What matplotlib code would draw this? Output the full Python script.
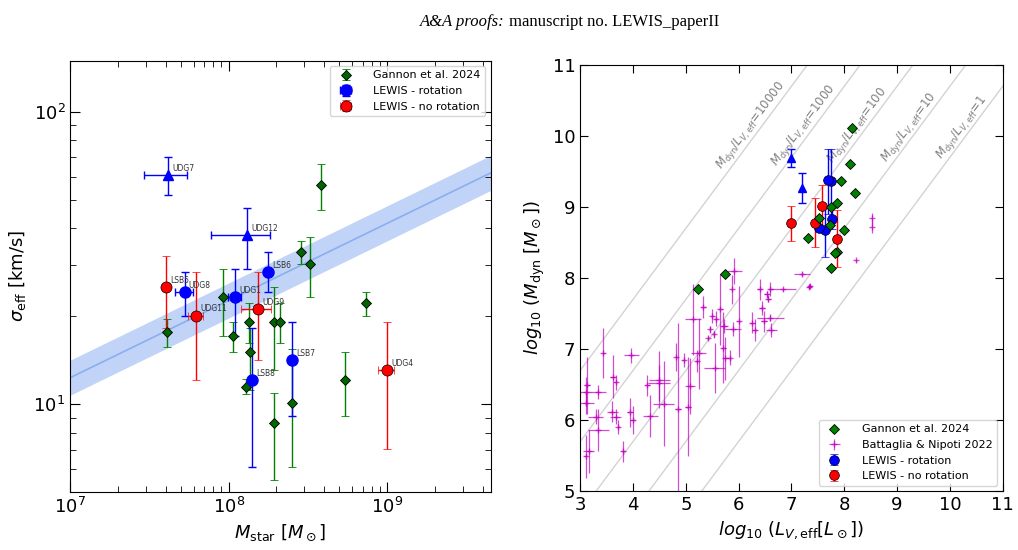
import numpy as np
import matplotlib
matplotlib.use("Agg")
import matplotlib.pyplot as plt

# ---------------- Left panel data ----------------
# Gannon et al. 2024
g_mstar = [4.09e7, 9.2e7, 1.07e8, 1.35e8, 1.36e8, 1.28e8, 1.93e8, 2.12e8, 1.93e8, 2.5e8, 2.86e8, 3.24e8, 3.8e8, 5.45e8, 7.36e8]
g_sig = [17.7, 23.2, 17.1, 19.1, 15.1, 11.5, 19.1, 19.1, 8.6, 10.1, 33.2, 30.1, 56.1, 12.1, 22.2]
g_sig_hi = [19.6, 29.0, 19.1, 22.2, 18.2, 12.2, 25.2, 22.2, 10.9, 15.4, 36.2, 37.2, 66.2, 15.1, 24.2]
g_sig_lo = [15.7, 17.1, 15.1, 16.2, 11.2, 10.8, 13.1, 16.2, 5.5, 6.1, 30.1, 23.2, 46.3, 9.1, 20.1]

# LEWIS rotation (circles)
rot_names = ["UDG8", "UDG1", "LSB6", "LSB7", "LSB8"]
rot_mstar = [10**7.722, 10**8.040, 10**8.251, 10**8.397, 10**8.146]
rot_mlo = [10**7.662, 10**7.996, 10**8.251, 10**8.397, 10**8.146]
rot_mhi = [10**7.772, 10**8.080, 10**8.251, 10**8.397, 10**8.146]
rot_sig = [24.2, 23.2, 28.3, 14.2, 12.1]
rot_sig_hi = [28.3, 29.0, 33.2, 19.1, 18.2]
rot_sig_lo = [20.0, 17.1, 24.2, 9.1, 6.1]

# LEWIS rotation lower limits (triangles)
tri_names = ["UDG7", "UDG12"]
tri_mstar = [10**7.616, 10**8.116]
tri_mlo = [10**7.464, 10**7.886]
tri_mhi = [10**7.734, 10**8.262]
tri_sig = [61.0, 38.0]
tri_sig_hi = [70.0, 47.0]
tri_sig_lo = [52.0, 29.0]

# LEWIS no rotation
nr_names = ["LSB5", "UDG11", "UDG9", "UDG4"]
nr_mstar = [10**7.603, 10**7.795, 10**8.186, 10**8.998]
nr_mlo = [10**7.603, 10**7.743, 10**8.080, 10**8.945]
nr_mhi = [10**7.603, 10**7.840, 10**8.266, 10**9.042]
nr_sig = [25.2, 20.1, 21.2, 13.1]
nr_sig_hi = [32.1, 28.3, 28.3, 19.1]
nr_sig_lo = [18.2, 12.1, 14.2, 7.05]

# relation (log sigma = a + b (log M - 7)), band half-width in dex
rel_a, rel_b, rel_w = 1.091, 0.264, 0.06

# ---------------- Right panel data ----------------
gR_L = [5.23, 5.74, 8.14, 8.10, 7.94, 8.21, 7.86, 7.74, 7.53, 7.72, 7.99, 7.31, 7.87, 7.83, 7.74]
gR_M = [7.84, 8.06, 10.11, 9.60, 9.37, 9.20, 9.05, 9.00, 8.85, 8.74, 8.68, 8.56, 8.36, 8.35, 8.14]

bn_L = [8.52, 8.52, 8.22, 7.20, 7.35, 7.33, 5.92, 5.88, 6.40, 6.60, 6.84, 6.53, 6.56, 5.33, 6.44,
        5.65, 5.50, 5.57, 5.13, 6.00, 6.60, 6.48, 6.26, 5.72, 5.89, 6.30, 6.62, 5.45, 5.53, 5.42,
        3.44, 3.97, 5.24, 5.71, 4.82, 4.96, 5.75, 5.83, 5.21, 5.55, 3.62, 3.67, 4.50, 4.27, 5.08,
        3.13, 3.10, 3.34, 4.49, 3.11, 4.58, 5.04, 4.85, 3.61, 3.94, 3.29, 3.67, 3.99, 3.72, 4.33,
        3.34, 3.81, 3.16, 3.10]
bn_M = [8.84, 8.72, 8.25, 8.06, 7.89, 7.88, 8.10, 7.84, 7.84, 7.84, 7.84, 7.77, 7.71, 7.59, 7.58,
        7.56, 7.47, 7.43, 7.42, 7.39, 7.44, 7.39, 7.37, 7.32, 7.28, 7.27, 7.27, 7.28, 7.21, 7.16,
        6.94, 6.91, 6.94, 7.02, 6.89, 6.85, 6.87, 6.88, 6.83, 6.73, 6.61, 6.53, 6.57, 6.49, 6.48,
        6.49, 6.40, 6.40, 6.52, 6.24, 6.23, 6.19, 6.16, 6.12, 6.11, 6.05, 6.05, 6.00, 5.90, 6.06,
        5.86, 5.56, 5.56, 5.49]
bn_Lerr = [0.0, 0.0, 0.0, 0.15, 0.03, 0.03, 0.15, 0.02, 0.05, 0.05, 0.25, 0.05, 0.05, 0.05, 0.05,
           0.05, 0.03, 0.03, 0.15, 0.03, 0.25, 0.05, 0.05, 0.08, 0.15, 0.05, 0.1, 0.02, 0.02, 0.02,
           0.03, 0.15, 0.15, 0.05, 0.03, 0.03, 0.05, 0.03, 0.03, 0.2, 0.05, 0.03, 0.2, 0.05, 0.1,
           0.05, 0.1, 0.15, 0.2, 0.15, 0.2, 0.05, 0.05, 0.1, 0.05, 0.15, 0.1, 0.05, 0.03, 0.15,
           0.2, 0.03, 0.1, 0.03]
bn_Merr = [0.08, 0.08, 0.02, 0.03, 0.03, 0.03, 0.18, 0.2, 0.15, 0.1, 0.02, 0.05, 0.05, 0.15, 0.1,
           0.5, 0.1, 0.1, 0.5, 0.5, 0.05, 0.15, 0.15, 0.1, 0.1, 0.15, 0.1, 0.05, 0.05, 0.03,
           0.35, 0.1, 0.5, 0.5, 0.2, 0.1, 0.3, 0.1, 0.15, 0.35, 0.3, 0.1, 0.4, 0.15, 0.4,
           0.4, 0.2, 0.1, 0.25, 0.15, 0.6, 0.7, 1.2, 0.15, 0.2, 0.1, 0.1, 0.2, 0.1, 0.3,
           0.3, 0.15, 0.3, 0.3]

rR_L = [7.63, 7.74, 7.77, 7.70, 7.52]
rR_M = [8.67, 9.36, 8.83, 9.38, 8.71]
rR_Mlo = [8.30, 8.77, 8.69, 8.90, 8.70]
rR_Mhi = [8.98, 9.81, 8.98, 9.82, 8.73]

tR_L = [7.00, 7.19]
tR_M = [9.69, 9.27]
tR_Mlo = [9.56, 9.06]
tR_Mhi = [9.82, 9.48]

nR_L = [7.00, 7.57, 7.44, 7.86]
nR_M = [8.77, 9.02, 8.78, 8.55]
nR_Mlo = [8.52, 8.72, 8.43, 8.16]
nR_Mhi = [9.02, 9.31, 9.12, 8.96]

ml_vals = [1, 10, 100, 1000, 10000]
ml_label_x = [10.35, 9.35, 8.38, 7.37, 6.37]
ml_offset = -0.3

# ---------------- Figure ----------------
plt.rcParams['font.family'] = 'DejaVu Sans'
fig = plt.figure(figsize=(10.18, 5.5), dpi=100)
fig.text(0.5, 0.975, "A&A proofs: ", ha='right', va='top', fontsize=12,
         family='Liberation Serif', style='italic')
fig.text(0.5, 0.975, "manuscript no. LEWIS_paperII", ha='left', va='top', fontsize=12,
         family='Liberation Serif')

ax1 = fig.add_axes([0.069, 0.105, 0.413, 0.785])
ax2 = fig.add_axes([0.570, 0.107, 0.415, 0.775])

def asym(v, lo, hi):
    v = np.array(v); return [v - np.array(lo), np.array(hi) - v]

# relation band
xx = np.logspace(7, np.log10(4.5e9), 100)
ly = rel_a + rel_b * (np.log10(xx) - 7)
ax1.fill_between(xx, 10**(ly - rel_w), 10**(ly + rel_w), color='cornflowerblue', alpha=0.4, lw=0)
ax1.plot(xx, 10**ly, color='cornflowerblue', alpha=0.6, lw=1.2)

ax1.errorbar(g_mstar, g_sig, yerr=asym(g_sig, g_sig_lo, g_sig_hi), fmt='D', color='green',
             mfc='darkgreen', mec='k', mew=0.6, ms=5, capsize=3, elinewidth=1, label='Gannon et al. 2024')
ax1.errorbar(rot_mstar, rot_sig, xerr=asym(rot_mstar, rot_mlo, rot_mhi), yerr=asym(rot_sig, rot_sig_lo, rot_sig_hi),
             fmt='o', color='blue', mfc='blue', mec='blue', ms=8, capsize=3, elinewidth=1, label='LEWIS - rotation')
ax1.errorbar(tri_mstar, tri_sig, xerr=asym(tri_mstar, tri_mlo, tri_mhi), yerr=asym(tri_sig, tri_sig_lo, tri_sig_hi),
             fmt='^', color='blue', ms=7, capsize=3, elinewidth=1)
ax1.errorbar(nr_mstar, nr_sig, xerr=asym(nr_mstar, nr_mlo, nr_mhi), yerr=asym(nr_sig, nr_sig_lo, nr_sig_hi),
             fmt='o', color='red', mfc='red', mec='k', mew=0.5, ms=8, capsize=3, elinewidth=1, label='LEWIS - no rotation')
for names, xs, ys in [(rot_names, rot_mstar, rot_sig), (tri_names, tri_mstar, tri_sig), (nr_names, nr_mstar, nr_sig)]:
    for n, x, y in zip(names, xs, ys):
        ax1.annotate(n, (x, y), xytext=(3, 3), textcoords='offset points', fontsize=5.5, color='#333333')

ax1.set_xscale('log'); ax1.set_yscale('log')
ax1.set_xlim(1e7, 4.5e9); ax1.set_ylim(5, 150)
ax1.set_xlabel(r"$M_{\rm star}$ [$M_\odot$]", fontsize=13)
ax1.set_ylabel(r"$\sigma_{\rm eff}$ [km/s]", fontsize=13)
ax1.tick_params(which='both', direction='in', top=True, right=True, labelsize=13)
ax1.tick_params(which='major', length=7)
ax1.tick_params(which='minor', length=4)
ax1.legend(loc='upper right', fontsize=8, handletextpad=1.5, borderpad=0.4)

# right panel
lx = np.linspace(3, 11, 10)
for ml, lxl in zip(ml_vals, ml_label_x):
    ax2.plot(lx, lx + np.log10(ml) + ml_offset, color='lightgray', lw=1, zorder=0)
    ax2.text(lxl, lxl + np.log10(ml) + ml_offset, r"$M_{\rm dyn}/L_{V,\rm eff}$=%d" % ml,
             rotation=53, ha='center', va='bottom', fontsize=8.5, color='gray',
             rotation_mode='anchor')

ax2.errorbar(gR_L, gR_M, fmt='D', color='green', mfc='green', mec='k', mew=0.6, ms=5, ls='none',
             label='Gannon et al. 2024', zorder=4)
ax2.errorbar(bn_L, bn_M, xerr=bn_Lerr, yerr=bn_Merr, fmt='+', color='m', ms=4, elinewidth=0.9,
             alpha=0.7, label='Battaglia & Nipoti 2022')
ax2.errorbar(rR_L, rR_M, yerr=asym(rR_M, rR_Mlo, rR_Mhi), fmt='o', color='blue', mfc='blue', mec='k',
             mew=0.5, ms=7, capsize=3, elinewidth=1, label='LEWIS - rotation', zorder=3)
ax2.errorbar(tR_L, tR_M, yerr=asym(tR_M, tR_Mlo, tR_Mhi), fmt='^', color='blue', ms=6, capsize=3, elinewidth=1)
ax2.errorbar(nR_L, nR_M, yerr=asym(nR_M, nR_Mlo, nR_Mhi), fmt='o', color='red', mfc='red', mec='k',
             mew=0.5, ms=7, capsize=3, elinewidth=1, label='LEWIS - no rotation', zorder=3)

ax2.set_xlim(3, 11); ax2.set_ylim(5, 11)
ax2.set_xticks(range(3, 12)); ax2.set_yticks(range(5, 12))
ax2.set_xlabel(r"$log_{10}$ ($L_{V,\rm eff}[L_\odot]$)", fontsize=13)
ax2.set_ylabel(r"$log_{10}$ ($M_{\rm dyn}$ [$M_\odot$])", fontsize=13)
ax2.tick_params(direction='in', top=True, right=True, labelsize=13, length=6)
ax2.legend(loc='lower right', fontsize=8, handletextpad=1.5, borderpad=0.4)

fig.savefig('out.png', dpi=100)
